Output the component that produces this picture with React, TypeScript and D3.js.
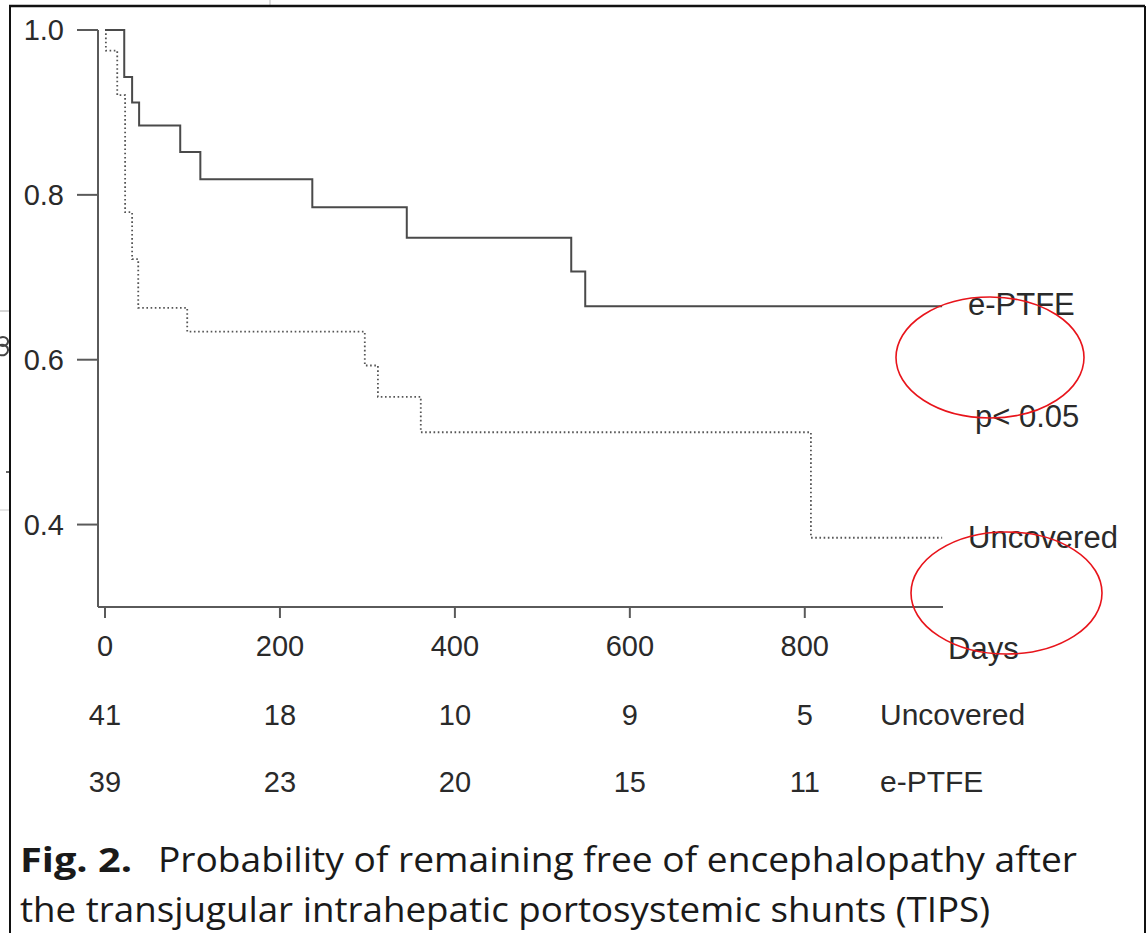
import React from "react";
import * as d3 from "d3";

// Kaplan–Meier estimates: time in days, probability free of encephalopathy
const eptfeDays = [0, 22, 31, 39, 86, 109, 237, 345, 533, 549, 957];
const eptfeSurv = [1, 0.943, 0.912, 0.884, 0.852, 0.819, 0.785, 0.748, 0.707, 0.665, 0.665];

const uncoveredDays = [0, 1, 14, 23, 31, 38, 94, 297, 312, 361, 807, 957];
const uncoveredSurv = [1, 0.975, 0.921, 0.779, 0.722, 0.663, 0.634, 0.593, 0.555, 0.512, 0.384, 0.384];

const xTicks = [0, 200, 400, 600, 800];
const yTicks = [1.0, 0.8, 0.6, 0.4];

// Number at risk
const atRiskUncovered = [41, 18, 10, 9, 5];
const atRiskEptfe = [39, 23, 20, 15, 11];

const W = 1148;
const H = 933;

export default function App() {
  const x = d3.scaleLinear().domain([-8, 958]).range([98, 943]);
  const y = d3.scaleLinear().domain([0.3, 1.0]).range([607, 30]);

  const line = d3
    .line<[number, number]>()
    .x((d) => x(d[0]))
    .y((d) => y(d[1]))
    .curve(d3.curveStepAfter);

  const eptfePts: [number, number][] = eptfeDays.map((d, i) => [d, eptfeSurv[i]]);
  const uncovPts: [number, number][] = uncoveredDays.map((d, i) => [d, uncoveredSurv[i]]);

  const axisColor = "#5a5a5a";
  const textColor = "#2a2a2a";
  const sans = "'Liberation Sans', Arial, Helvetica, sans-serif";
  const capFont = "'Open Sans', 'Noto Sans', sans-serif";

  return (
    <svg
      width={W}
      height={H}
      viewBox={`0 0 ${W} ${H}`}
      style={{ position: "absolute", left: 0, top: 0, background: "#fff" }}
    >
      <rect x={0} y={0} width={W} height={H} fill="#fff" />

      {/* page frame and neighbouring marks at the edge */}
      <line x1={270} y1={0} x2={270} y2={5} stroke="#ddd" strokeWidth={2} />
      <line x1={9} y1={6} x2={1145} y2={6} stroke="#111" strokeWidth={2.5} />
      <line x1={10} y1={6} x2={10} y2={H} stroke="#111" strokeWidth={2} />
      <line x1={1145} y1={6} x2={1145} y2={H} stroke="#111" strokeWidth={2} />
      <line x1={0} y1={311} x2={9} y2={311} stroke="#aaa" strokeWidth={1} />
      <line x1={0} y1={510} x2={9} y2={510} stroke="#ccc" strokeWidth={1} />
      <line x1={6} y1={472} x2={9} y2={472} stroke="#333" strokeWidth={1.5} />
      <path
        d="M0,338 A5,4.5 0 0 1 8,341 A5,4.5 0 0 1 0,345 M0,345 A6,5 0 0 1 8,350 A6,5 0 0 1 0,355"
        fill="none"
        stroke="#444"
        strokeWidth={2}
      />

      {/* axes */}
      <line x1={x.range()[0]} y1={y(0.3)} x2={x.range()[1]} y2={y(0.3)} stroke={axisColor} strokeWidth={2} />
      <line x1={x.range()[0]} y1={y(1.0)} x2={x.range()[0]} y2={y(0.3)} stroke={axisColor} strokeWidth={2} />

      {yTicks.map((t) => (
        <g key={`y${t}`}>
          <line x1={77} x2={98} y1={y(t)} y2={y(t)} stroke={axisColor} strokeWidth={2} />
          <text
            x={64}
            y={y(t) + 10}
            textAnchor="end"
            fontFamily={sans}
            fontSize={29}
            fill={textColor}
          >
            {d3.format(".1f")(t)}
          </text>
        </g>
      ))}

      {xTicks.map((t) => (
        <g key={`x${t}`}>
          <line x1={x(t)} x2={x(t)} y1={607} y2={618} stroke={axisColor} strokeWidth={2} />
          <text x={x(t)} y={656} textAnchor="middle" fontFamily={sans} fontSize={29} fill={textColor}>
            {t}
          </text>
        </g>
      ))}

      {/* survival curves */}
      <path
        d={line(uncovPts) || ""}
        fill="none"
        stroke="#555"
        strokeWidth={1.8}
        strokeDasharray="1.6 2.6"
      />
      <path d={line(eptfePts) || ""} fill="none" stroke="#4a4a4a" strokeWidth={2} />

      {/* curve labels */}
      <text x={968} y={315} fontFamily={sans} fontSize={31} fill={textColor}>
        e-PTFE
      </text>
      <text x={975} y={427} fontFamily={sans} fontSize={31} fill={textColor}>
        p&lt; 0.05
      </text>
      <text x={968} y={548} fontFamily={sans} fontSize={31} fill={textColor}>
        Uncovered
      </text>
      <text x={948} y={659} fontFamily={sans} fontSize={31} fill={textColor}>
        Days
      </text>

      {/* numbers at risk */}
      {atRiskUncovered.map((n, i) => (
        <text
          key={`u${i}`}
          x={x(xTicks[i])}
          y={725}
          textAnchor="middle"
          fontFamily={sans}
          fontSize={29}
          fill={textColor}
        >
          {n}
        </text>
      ))}
      {atRiskEptfe.map((n, i) => (
        <text
          key={`e${i}`}
          x={x(xTicks[i])}
          y={792}
          textAnchor="middle"
          fontFamily={sans}
          fontSize={29}
          fill={textColor}
        >
          {n}
        </text>
      ))}
      <text x={880} y={725} fontFamily={sans} fontSize={30} fill={textColor}>
        Uncovered
      </text>
      <text x={880} y={792} fontFamily={sans} fontSize={30} fill={textColor}>
        e-PTFE
      </text>

      {/* caption */}
      <text
        x={20}
        y={872}
        fontFamily={capFont}
        fontSize={34}
        fontWeight={700}
        fill="#1a1a1a"
        textLength={112}
        lengthAdjust="spacingAndGlyphs"
      >
        Fig. 2.
      </text>
      <text
        x={158}
        y={872}
        fontFamily={capFont}
        fontSize={34}
        fill="#1a1a1a"
        textLength={919}
        lengthAdjust="spacingAndGlyphs"
      >
        Probability of remaining free of encephalopathy after
      </text>
      <text
        x={20}
        y={922}
        fontFamily={capFont}
        fontSize={34}
        fill="#1a1a1a"
        textLength={970}
        lengthAdjust="spacingAndGlyphs"
      >
        the transjugular intrahepatic portosystemic shunts (TIPS)
      </text>

      {/* highlight ellipses */}
      <ellipse cx={990} cy={357.5} rx={94} ry={60.5} fill="none" stroke="#e8141b" strokeWidth={1.6} />
      <ellipse cx={1006.5} cy={593} rx={95.5} ry={61} fill="none" stroke="#e8141b" strokeWidth={1.6} />
    </svg>
  );
}
